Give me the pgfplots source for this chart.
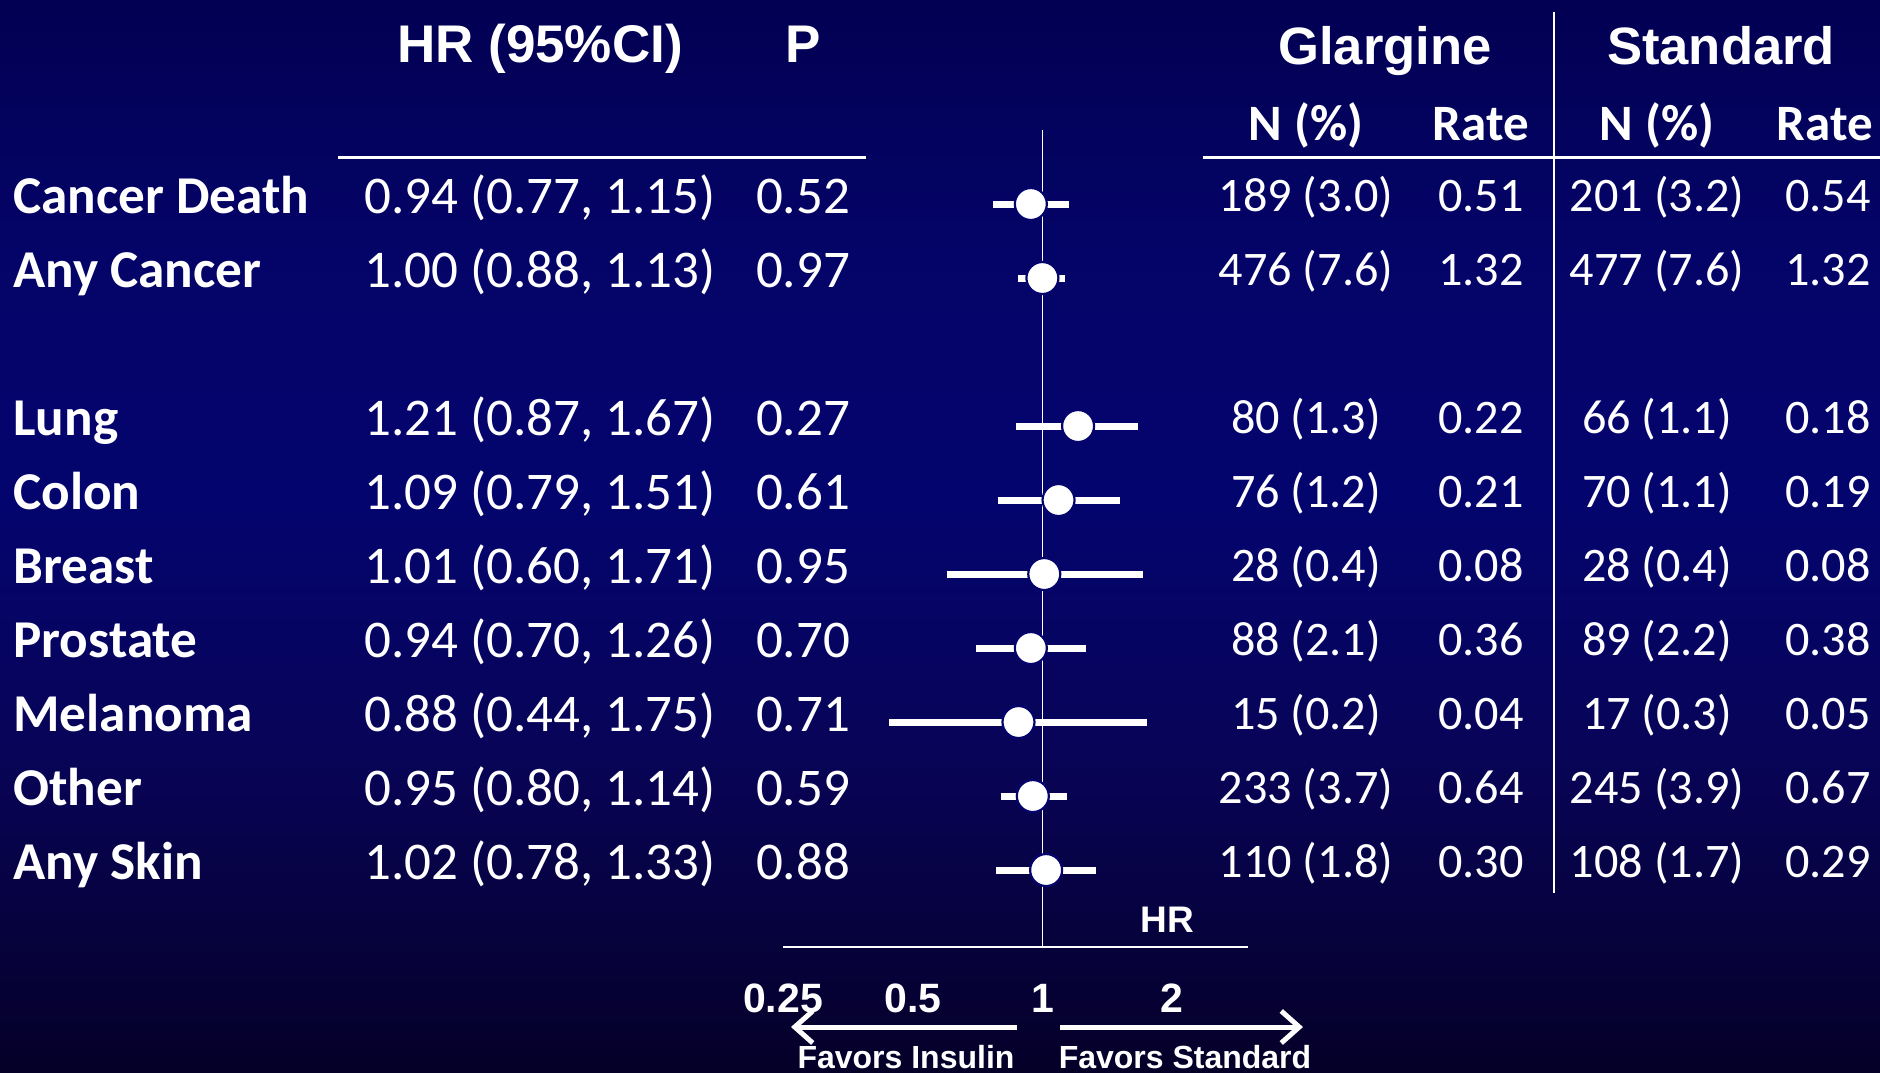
\documentclass[border=0pt]{standalone}
\usepackage{fontspec}
\setmainfont{Carlito}
\newfontfamily\arial{Liberation Sans}
\usepackage{pgfplots}
\pgfplotsset{compat=1.18}
\usetikzlibrary{arrows.meta}
\definecolor{ctop}{RGB}{2,0,82}
\definecolor{c250}{RGB}{4,4,104}
\definecolor{c500}{RGB}{4,4,110}
\definecolor{c750}{RGB}{8,4,88}
\definecolor{cbot}{RGB}{5,0,40}
\definecolor{mk}{RGB}{4,4,108}
\pgfdeclareverticalshading{bgshade}{100bp}{color(0bp)=(cbot); color(25bp)=(cbot); color(40.02bp)=(c750); color(51.68bp)=(c500); color(63.34bp)=(c250); color(75bp)=(ctop); color(100bp)=(ctop)}
\newcommand\lab[1]{\fontsize{26.6}{30}\selectfont\bfseries #1}
\newcommand\num[1]{\fontsize{26.5}{30}\selectfont #1}
\newcommand\rnum[1]{\fontsize{24.1}{28}\selectfont #1}
\newcommand\datarow[8]{%
  \node[anchor=base west,text=white,inner sep=0pt] at (13,#1) {\lab{#2}};
  \node[anchor=base,text=white,inner sep=0pt] at (540,#1) {\num{#3}};
  \node[anchor=base,text=white,inner sep=0pt] at (803,#1) {\num{#4}};
  \node[anchor=base,text=white,inner sep=0pt] at (1306,#1-2) {\rnum{#5}};
  \node[anchor=base,text=white,inner sep=0pt] at (1481,#1-2) {\rnum{#6}};
  \node[anchor=base,text=white,inner sep=0pt] at (1657,#1-2) {\rnum{#7}};
  \node[anchor=base,text=white,inner sep=0pt] at (1828,#1-2) {\rnum{#8}};
}
\begin{document}
\begin{tikzpicture}
\path[use as bounding box, shading=bgshade] (0pt,0pt) rectangle (940pt,-536pt);
\begin{scope}[x=0.5pt,y=-0.5pt]
  % headers
  \node[anchor=base,text=white,font=\arial\bfseries\fontsize{26.5}{30}\selectfont] at (540,62) {HR (95\%CI)};
  \node[anchor=base,text=white,font=\arial\bfseries\fontsize{26.5}{30}\selectfont] at (803,62) {P};
  \node[anchor=base,text=white,font=\arial\bfseries\fontsize{26.3}{30}\selectfont] at (1385,64) {Glargine};
  \node[anchor=base,text=white,font=\arial\bfseries\fontsize{26.3}{30}\selectfont] at (1721,64) {Standard};
  \node[anchor=base,text=white,font=\bfseries\fontsize{25.5}{30}\selectfont] at (1306,140) {N (\%)};
  \node[anchor=base,text=white,font=\bfseries\fontsize{25.5}{30}\selectfont] at (1481,140) {Rate};
  \node[anchor=base,text=white,font=\bfseries\fontsize{25.5}{30}\selectfont] at (1657,140) {N (\%)};
  \node[anchor=base,text=white,font=\bfseries\fontsize{25.5}{30}\selectfont] at (1825,140) {Rate};
  \draw[white,line width=1.5pt] (338,157) -- (866,157);
  \draw[white,line width=1.5pt] (1203,157) -- (1880,157);
  \draw[white,line width=1.2pt] (1554,12) -- (1554,893);
  % rows
  \datarow{213}{Cancer Death}{0.94 (0.77, 1.15)}{0.52}{189 (3.0)}{0.51}{201 (3.2)}{0.54}
  \datarow{287}{Any Cancer}{1.00 (0.88, 1.13)}{0.97}{476 (7.6)}{1.32}{477 (7.6)}{1.32}
  \datarow{435}{Lung}{1.21 (0.87, 1.67)}{0.27}{80 (1.3)}{0.22}{66 (1.1)}{0.18}
  \datarow{509}{Colon}{1.09 (0.79, 1.51)}{0.61}{76 (1.2)}{0.21}{70 (1.1)}{0.19}
  \datarow{583}{Breast}{1.01 (0.60, 1.71)}{0.95}{28 (0.4)}{0.08}{28 (0.4)}{0.08}
  \datarow{657}{Prostate}{0.94 (0.70, 1.26)}{0.70}{88 (2.1)}{0.36}{89 (2.2)}{0.38}
  \datarow{731}{Melanoma}{0.88 (0.44, 1.75)}{0.71}{15 (0.2)}{0.04}{17 (0.3)}{0.05}
  \datarow{805}{Other}{0.95 (0.80, 1.14)}{0.59}{233 (3.7)}{0.64}{245 (3.9)}{0.67}
  \datarow{879}{Any Skin}{1.02 (0.78, 1.33)}{0.88}{110 (1.8)}{0.30}{108 (1.7)}{0.29}
  % bottom annotations
  \node[anchor=base,text=white,font=\arial\bfseries\fontsize{18.5}{22}\selectfont] at (1167,932) {HR};
  \draw[white,line width=2.5pt,-{Straight Barb[length=9pt,width=16pt,line width=2.5pt]}] (1017,1027) -- (791,1027);
  \draw[white,line width=2.5pt,-{Straight Barb[length=9pt,width=16pt,line width=2.5pt]}] (1060,1027) -- (1303,1027);
  \node[anchor=base,text=white,font=\arial\bfseries\fontsize{16}{19}\selectfont] at (906,1068) {Favors Insulin};
  \node[anchor=base,text=white,font=\arial\bfseries\fontsize{16}{19}\selectfont] at (1185,1068) {Favors Standard};
\end{scope}
\begin{axis}[at={(391.5pt,-473.5pt)}, anchor=south west, scale only axis,
  width=232.5pt, height=408.5pt,
  xmode=log, log basis x=2, xmin=0.25, xmax=3, ymin=-10.04, ymax=1,
  axis x line*=bottom, axis y line=none,
  x axis line style={white, line width=0.8pt, -},
  xtick={0.25,0.5,1,2}, xticklabels={0.25,0.5,1,2}, ytick=\empty,
  major tick length=0pt,
  xticklabel style={font=\arial\bfseries\fontsize{20.5}{24}\selectfont, text=white, anchor=base, yshift=-32.5pt, inner sep=0pt},
  clip=false]
  \addplot[white, line width=0.7pt] coordinates {(1,1) (1,-10.04)};
  \addplot[white, line width=3.5pt] coordinates {(0.77,0) (1.15,0)};
  \addplot[white, line width=3.5pt] coordinates {(0.88,-1) (1.13,-1)};
  \addplot[white, line width=3.5pt] coordinates {(0.87,-3) (1.67,-3)};
  \addplot[white, line width=3.5pt] coordinates {(0.79,-4) (1.51,-4)};
  \addplot[white, line width=3.5pt] coordinates {(0.60,-5) (1.71,-5)};
  \addplot[white, line width=3.5pt] coordinates {(0.70,-6) (1.26,-6)};
  \addplot[white, line width=3.5pt] coordinates {(0.44,-7) (1.75,-7)};
  \addplot[white, line width=3.5pt] coordinates {(0.80,-8) (1.14,-8)};
  \addplot[white, line width=3.5pt] coordinates {(0.78,-9) (1.33,-9)};
  \addplot[only marks, mark=*, mark size=8pt, mark options={fill=white, draw=mk, line width=1.1pt}]
    coordinates {(0.94,0) (1.00,-1) (1.21,-3) (1.09,-4) (1.01,-5) (0.94,-6) (0.88,-7) (0.95,-8) (1.02,-9)};
\end{axis}
\end{tikzpicture}
\end{document}
